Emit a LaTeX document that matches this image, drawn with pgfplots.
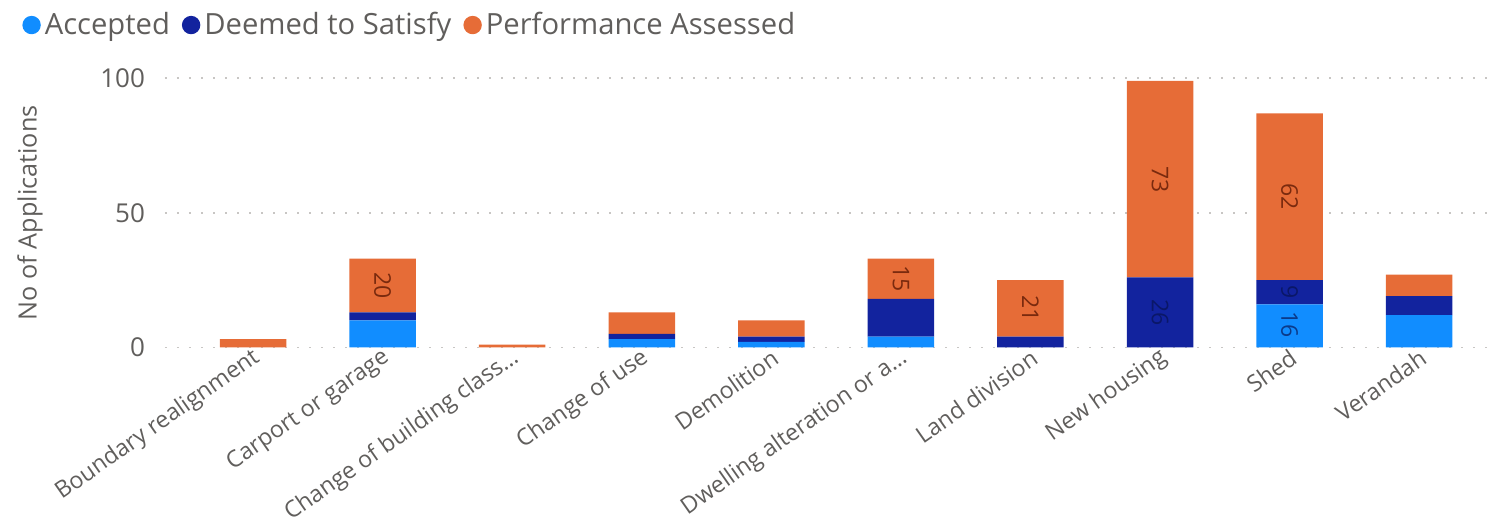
\documentclass[border=0pt]{standalone}
\usepackage{pgfplots}
\pgfplotsset{compat=1.18}
\usepackage{fontspec}
\setmainfont{Open Sans}
\definecolor{acc}{HTML}{118DFF}
\definecolor{dts}{HTML}{12239E}
\definecolor{pa}{HTML}{E66C37}
\definecolor{tg}{HTML}{605E5C}
\definecolor{gridc}{HTML}{C8C6C4}
\definecolor{palab}{HTML}{7A2A0E}
\definecolor{dtslab}{HTML}{0A1768}
\definecolor{acclab}{HTML}{0B3A8A}
\begin{document}
\begin{tikzpicture}
\path[use as bounding box] (-82.5pt,-90.85pt) rectangle (663pt,173.65pt);
\begin{axis}[
  at={(0pt,0pt)}, anchor=south west,
  x=64.78pt, y=1.345pt,
  xmin=-0.68, xmax=9.55, ymin=0, ymax=100,
  ybar stacked, bar width=33.25pt,
  xtick={0,1,2,3,4,5,6,7,8,9},
  xticklabels={{Boundary realignment},{Carport or garage},{Change of building class…},{Change of use},{Demolition},{Dwelling alteration or a…},{Land division},{New housing},{Shed},{Verandah}},
  ytick={0,50,100},
  ymajorgrids, xmajorgrids=false,
  grid style={color=gridc, line width=0.8pt, dash pattern=on 1pt off 5pt},
  axis line style={draw=none}, major tick length=0pt,
  tick label style={font=\fontsize{13}{15}\selectfont, text=tg},
  /pgf/number format/assume math mode=true,
  xticklabel style={font=\fontsize{11.6}{14}\selectfont, inner sep=1pt, yshift=-3.5pt, xshift=3pt, rotate=35, anchor=east},
  yticklabel style={xshift=-6.5pt},
  ylabel={No of Applications},
  every axis y label/.style={at={(axis description cs:-0.1019,0.5)}, rotate=90, anchor=center, font=\fontsize{12.6}{15}\selectfont, text=tg},
  legend style={at={(axis description cs:-0.1079,1.198)}, anchor=west, draw=none, fill=none, legend columns=-1, font=\fontsize{14.6}{17}\selectfont, text=tg, inner sep=0pt, /tikz/every even column/.append style={column sep=4pt}},
  legend image code/.code={\fill[#1] (0pt,0pt) circle (4.6pt);},
  clip=false,
]
\addplot[fill=acc, draw=none] coordinates {(0,0) (1,10) (2,0) (3,3) (4,2) (5,4) (6,0) (7,0) (8,16) (9,12)};
\addlegendentry{Accepted}
\addplot[fill=dts, draw=none] coordinates {(0,0) (1,3) (2,0) (3,2) (4,2) (5,14) (6,4) (7,26) (8,9) (9,7)};
\addlegendentry{Deemed to Satisfy}
\addplot[fill=pa, draw=none] coordinates {(0,3) (1,20) (2,1) (3,8) (4,6) (5,15) (6,21) (7,73) (8,62) (9,8)};
\addlegendentry{Performance Assessed}
\end{axis}
\begin{axis}[
  at={(0pt,0pt)}, anchor=south west,
  x=64.78pt, y=1.345pt,
  xmin=-0.68, xmax=9.55, ymin=0, ymax=100,
  hide axis, clip=false,
  nodes near coords, point meta=explicit symbolic,
  nodes near coords align={anchor=center},
]
\addplot[only marks, mark=*, mark size=0pt, mark options={draw=none, fill=none},
  every node near coord/.style={rotate=-90, anchor=center, inner sep=0pt, font=\fontsize{11.5}{13}\selectfont, text=palab}]
  table[meta=lab] {
x y lab
1 23 20
5 25.5 15
6 14.5 21
7 62.5 73
8 56 62
};
\addplot[only marks, mark=*, mark size=0pt, mark options={draw=none, fill=none},
  every node near coord/.style={rotate=-90, anchor=center, inner sep=0pt, font=\fontsize{11.5}{13}\selectfont, text=dtslab}]
  table[meta=lab] {
x y lab
7 13 26
8 20.5 9
};
\addplot[only marks, mark=*, mark size=0pt, mark options={draw=none, fill=none},
  every node near coord/.style={rotate=-90, anchor=center, inner sep=0pt, font=\fontsize{11.5}{13}\selectfont, text=acclab}]
  table[meta=lab] {
x y lab
8 8.5 16
};
\end{axis}
\end{tikzpicture}
\end{document}
